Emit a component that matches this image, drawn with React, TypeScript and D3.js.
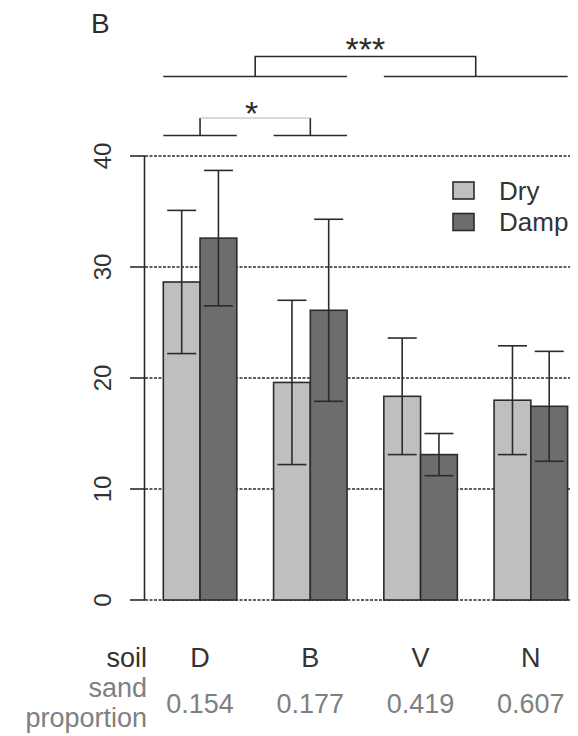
import React from "react";
import * as d3 from "d3";

const soils = ["D", "B", "V", "N"];
const sandProportion = ["0.154", "0.177", "0.419", "0.607"];
const dryMean = [28.65, 19.6, 18.35, 18.0];
const dryErr = [6.45, 7.4, 5.25, 4.9];
const dampMean = [32.6, 26.1, 13.1, 17.45];
const dampErr = [6.1, 8.2, 1.9, 4.95];
const yTicks = [0, 10, 20, 30, 40];
const seriesNames = ["Dry", "Damp"];
const seriesColors = ["#bebfc1", "#6d6d6f"];

const W = 578;
const H = 736;
const INK = "#2b2b2b";
const FONT = "'Liberation Sans', Arial, Helvetica, sans-serif";

export default function App() {
  const x = d3.scaleLinear().domain([0, 12]).range([126.55, 567.6]);
  const y = d3.scaleLinear().domain([0, 40]).range([600, 156]);
  const capHalf = 14.5;

  const bars: { x0: number; x1: number; m: number; e: number; fill: string }[] = [];
  soils.forEach((_, i) => {
    bars.push({ x0: 1 + 3 * i, x1: 2 + 3 * i, m: dryMean[i], e: dryErr[i], fill: seriesColors[0] });
    bars.push({ x0: 2 + 3 * i, x1: 3 + 3 * i, m: dampMean[i], e: dampErr[i], fill: seriesColors[1] });
  });

  return (
    <svg width={W} height={H} style={{ display: "block", position: "absolute", left: 0, top: 0 }} fontFamily={FONT}>
      <rect x={0} y={0} width={W} height={H} fill="#fff" />
      {/* panel label */}
      <text x={91} y={33} fontSize={28} fill={INK}>B</text>

      {/* gridlines */}
      {yTicks.map((t) => (
        <line key={"g" + t} x1={145} x2={570} y1={y(t)} y2={y(t)} stroke={INK} strokeWidth={1.5} strokeDasharray="3,1.5" />
      ))}

      {/* bars */}
      {bars.map((b, i) => (
        <rect key={"b" + i} x={x(b.x0)} y={y(b.m)} width={x(b.x1) - x(b.x0)} height={y(0) - y(b.m)} fill={b.fill} stroke={INK} strokeWidth={1.6} />
      ))}

      {/* error bars */}
      {bars.map((b, i) => {
        const cx = x((b.x0 + b.x1) / 2);
        return (
          <g key={"e" + i} stroke={INK} strokeWidth={1.6}>
            <line x1={cx} x2={cx} y1={y(b.m + b.e)} y2={y(b.m - b.e)} />
            <line x1={cx - capHalf} x2={cx + capHalf} y1={y(b.m + b.e)} y2={y(b.m + b.e)} />
            <line x1={cx - capHalf} x2={cx + capHalf} y1={y(b.m - b.e)} y2={y(b.m - b.e)} />
          </g>
        );
      })}

      {/* y axis */}
      <line x1={144.5} x2={144.5} y1={y(40)} y2={y(0)} stroke={INK} strokeWidth={1.6} />
      {yTicks.map((t) => (
        <g key={"t" + t}>
          <line x1={130} x2={145} y1={y(t)} y2={y(t)} stroke={INK} strokeWidth={1.6} />
          <text
            transform={`translate(102,${y(t)}) rotate(-90)`}
            textAnchor="middle"
            dominantBaseline="central"
            fontSize={24}
            fill="#333"
          >
            {t}
          </text>
        </g>
      ))}

      {/* legend */}
      {seriesNames.map((s, i) => (
        <g key={"l" + s}>
          <rect x={453} y={182 + i * 31.5} width={21} height={17} fill={seriesColors[i]} stroke={INK} strokeWidth={1.6} />
          <text x={499} y={190.5 + i * 31.5} dominantBaseline="central" fontSize={26} fill="#333">{s}</text>
        </g>
      ))}

      {/* significance brackets */}
      <g stroke={INK} strokeWidth={1.6} fill="none">
        <line x1={x(1)} x2={x(6)} y1={76.5} y2={76.5} />
        <line x1={x(7)} x2={x(12)} y1={76.5} y2={76.5} />
        <polyline points={`${x(3.5)},76.5 ${x(3.5)},56.5 ${x(9.5)},56.5 ${x(9.5)},76.5`} />
        <line x1={x(1)} x2={x(3)} y1={135.5} y2={135.5} />
        <line x1={x(4)} x2={x(6)} y1={135.5} y2={135.5} />
        <line x1={x(2)} x2={x(2)} y1={135.5} y2={118} />
        <line x1={x(5)} x2={x(5)} y1={135.5} y2={118} />
      </g>
      <line x1={x(2)} x2={x(5)} y1={118} y2={118} stroke="#b5b5b5" strokeWidth={1} />
      <text x={x(6.5)} y={61} textAnchor="middle" fontSize={34} fill={INK}>***</text>
      <text x={x(3.4)} y={125} textAnchor="middle" fontSize={34} fill={INK}>*</text>

      {/* bottom labels */}
      <text x={147} y={667} textAnchor="end" fontSize={27} fill="#333">soil</text>
      <text x={147} y={697} textAnchor="end" fontSize={27} fill="#808080">sand</text>
      <text x={147} y={727} textAnchor="end" fontSize={27} fill="#808080">proportion</text>
      {soils.map((s, i) => (
        <g key={"s" + s}>
          <text x={x(2 + 3 * i)} y={667} textAnchor="middle" fontSize={27} fill="#333">{s}</text>
          <text x={x(2 + 3 * i)} y={713} textAnchor="middle" fontSize={27} fill="#808080">{sandProportion[i]}</text>
        </g>
      ))}
    </svg>
  );
}
